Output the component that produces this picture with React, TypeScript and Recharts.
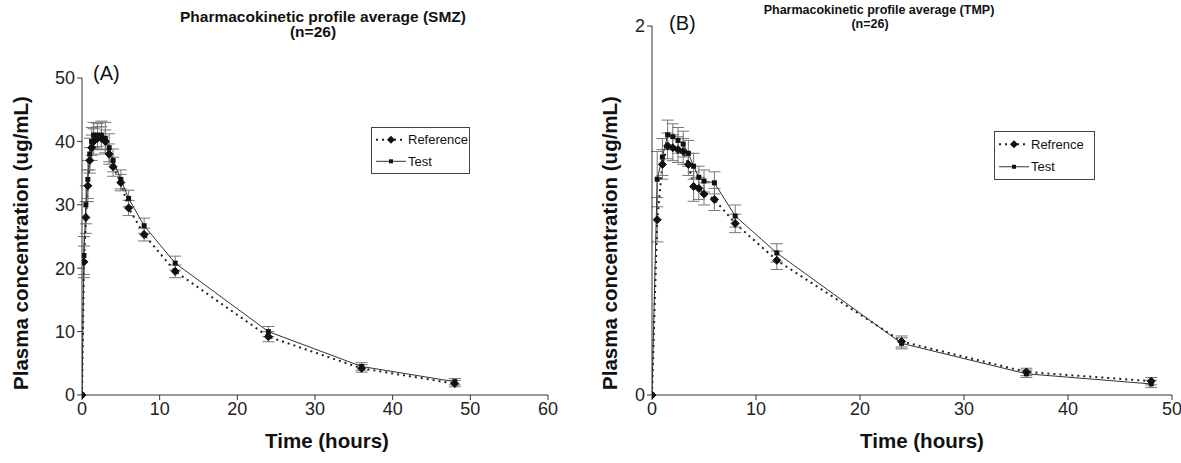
import React from 'react';
import { LineChart, Line, XAxis, YAxis, ErrorBar } from 'recharts';

// ---- SMZ (panel A) ----
const smzTimes = [0, 0.25, 0.5, 0.75, 1, 1.25, 1.5, 2, 2.5, 3, 3.5, 4, 5, 6, 8, 12, 24, 36, 48];
const smzRef = [0, 21, 28, 33, 37, 39, 40, 40.5, 40.5, 40, 38, 36, 33.5, 29.5, 25.3, 19.5, 9.2, 4.2, 1.8];
const smzRefSd = [0, 2.5, 2.5, 2.5, 2, 2, 2, 1.8, 1.8, 1.8, 1.6, 1.5, 1.3, 1.2, 1, 1, 0.8, 0.6, 0.5];
const smzTest = [0, 22, 30, 34, 38, 40, 41, 41, 41, 40.5, 39, 37, 34, 31, 26.7, 20.8, 10, 4.5, 2.1];
const smzTestSd = [0, 3, 3, 3, 2.5, 2.2, 2, 1.8, 2.2, 2.5, 2.2, 1.8, 1.5, 1.3, 1.2, 1.1, 0.8, 0.6, 0.5];

// ---- TMP (panel B) ----
const tmpTimes = [0, 0.5, 1, 1.5, 2, 2.5, 3, 3.5, 4, 4.5, 5, 6, 8, 12, 24, 36, 48];
const tmpRef = [0, 0.95, 1.25, 1.35, 1.34, 1.33, 1.32, 1.25, 1.13, 1.12, 1.09, 1.06, 0.93, 0.73, 0.29, 0.125, 0.075];
const tmpRefSd = [0, 0.12, 0.08, 0.07, 0.07, 0.07, 0.07, 0.06, 0.08, 0.06, 0.06, 0.06, 0.05, 0.05, 0.03, 0.02, 0.02];
const tmpTest = [0, 1.17, 1.29, 1.41, 1.4, 1.38, 1.36, 1.31, 1.24, 1.18, 1.16, 1.15, 0.97, 0.77, 0.28, 0.115, 0.06];
const tmpTestSd = [0, 0.15, 0.1, 0.08, 0.07, 0.07, 0.07, 0.07, 0.07, 0.06, 0.06, 0.06, 0.06, 0.05, 0.03, 0.02, 0.02];

const smzXTicks = [0, 10, 20, 30, 40, 50, 60];
const smzYTicks = [0, 10, 20, 30, 40, 50];
const tmpXTicks = [0, 10, 20, 30, 40, 50];
const tmpYTicks = [0, 2];

const build = (times: number[], vals: number[], sds: number[]) =>
  times.map((t, i) => ({ t, v: vals[i], e: sds[i] }));

const FONT = 'Liberation Sans, Arial, sans-serif';

const Diamond = (props: any) => {
  const { cx, cy, index } = props;
  if (cx == null || cy == null) return <g key={`d${index}`} />;
  const r = 4;
  return (
    <polygon
      key={`d${index}`}
      points={`${cx},${cy - r} ${cx + r},${cy} ${cx},${cy + r} ${cx - r},${cy}`}
      fill="#111"
      stroke="#111"
    />
  );
};

const Square = (props: any) => {
  const { cx, cy, index } = props;
  if (cx == null || cy == null) return <g key={`s${index}`} />;
  const r = 2.5;
  return <rect key={`s${index}`} x={cx - r} y={cy - r} width={2 * r} height={2 * r} fill="#111" />;
};

const tickStyle = { fontSize: 18, fill: '#222', fontFamily: FONT };

function Panel(props: {
  left: number;
  width: number;
  margin: { top: number; right: number; bottom: number; left: number };
  ref1: any[];
  test1: any[];
  xDomain: [number, number];
  yDomain: [number, number];
  xTicks: number[];
  yTicks: number[];
}) {
  const { left, width, margin, ref1, test1, xDomain, yDomain, xTicks, yTicks } = props;
  return (
    <div style={{ position: 'absolute', left, top: 0 }}>
      <LineChart width={width} height={463} margin={margin}>
        <XAxis
          type="number"
          dataKey="t"
          domain={xDomain}
          ticks={xTicks}
          allowDataOverflow
          height={30}
          tick={tickStyle}
          tickSize={5}
          stroke="#333"
          tickLine={{ stroke: '#333' }}
          interval={0}
        />
        <YAxis
          type="number"
          domain={yDomain}
          ticks={yTicks}
          width={60}
          tick={tickStyle}
          tickSize={5}
          stroke="#333"
          tickLine={{ stroke: '#333' }}
          interval={0}
        />
        <Line
          data={ref1}
          dataKey="v"
          stroke="#222"
          strokeWidth={2}
          strokeDasharray="2 4"
          dot={Diamond}
          activeDot={false}
          isAnimationActive={false}
        >
          <ErrorBar dataKey="e" width={6} stroke="#777" strokeWidth={1} direction="y" />
        </Line>
        <Line
          data={test1}
          dataKey="v"
          stroke="#333"
          strokeWidth={1}
          dot={Square}
          activeDot={false}
          isAnimationActive={false}
        >
          <ErrorBar dataKey="e" width={6} stroke="#777" strokeWidth={1} direction="y" />
        </Line>
      </LineChart>
    </div>
  );
}

function LegendBox(props: { left: number; top: number; w: number; h: number; refLabel: string }) {
  const { left, top, w, h, refLabel } = props;
  return (
    <div
      style={{
        position: 'absolute',
        left,
        top,
        width: w,
        height: h,
        border: '1px solid #444',
        boxSizing: 'border-box',
        background: '#fff',
      }}
    >
      <svg width={w} height={h} style={{ position: 'absolute', left: -1, top: -1 }}>
        <line x1={5} x2={35} y1={h * 0.27} y2={h * 0.27} stroke="#222" strokeWidth={2} strokeDasharray="2 4" />
        <polygon
          points={`20,${h * 0.27 - 4} 24,${h * 0.27} 20,${h * 0.27 + 4} 16,${h * 0.27}`}
          fill="#111"
        />
        <line x1={5} x2={35} y1={h * 0.73} y2={h * 0.73} stroke="#333" strokeWidth={1} />
        <rect x={18} y={h * 0.73 - 2} width={4} height={4} fill="#111" />
        <text x={37} y={h * 0.27 + 4.5} fontSize={13} fontFamily={FONT} fill="#111">
          {refLabel}
        </text>
        <text x={37} y={h * 0.73 + 4.5} fontSize={13} fontFamily={FONT} fill="#111">
          Test
        </text>
      </svg>
    </div>
  );
}

const textBase: React.CSSProperties = {
  position: 'absolute',
  fontFamily: FONT,
  color: '#111',
  whiteSpace: 'nowrap',
  lineHeight: 1,
};

const boldCenter = (left: number, top: number, size: number): React.CSSProperties => ({
  ...textBase,
  left,
  top,
  fontSize: size,
  fontWeight: 'bold',
  transform: 'translate(-50%, -50%)',
});

const yLabelStyle = (left: number, top: number): React.CSSProperties => ({
  ...textBase,
  left,
  top,
  fontSize: 20.5,
  fontWeight: 'bold',
  transform: 'translate(-50%, -50%) rotate(-90deg)',
});

export default function App() {
  const smzRefData = build(smzTimes, smzRef, smzRefSd);
  const smzTestData = build(smzTimes, smzTest, smzTestSd);
  const tmpRefData = build(tmpTimes, tmpRef, tmpRefSd);
  const tmpTestData = build(tmpTimes, tmpTest, tmpTestSd);

  return (
    <div style={{ position: 'absolute', left: 0, top: 0, width: 1181, height: 463, background: '#fff', overflow: 'hidden' }}>
      <Panel
        left={0}
        width={590}
        margin={{ top: 78, right: 42, bottom: 38, left: 22 }}
        ref1={smzRefData}
        test1={smzTestData}
        xDomain={[0, 60]}
        yDomain={[0, 50]}
        xTicks={smzXTicks}
        yTicks={smzYTicks}
      />
      <Panel
        left={590}
        width={591}
        margin={{ top: 26, right: 9, bottom: 38, left: 2 }}
        ref1={tmpRefData}
        test1={tmpTestData}
        xDomain={[0, 50]}
        yDomain={[0, 2]}
        xTicks={tmpXTicks}
        yTicks={tmpYTicks}
      />

      <div style={boldCenter(323, 17, 15.5)}>Pharmacokinetic profile average (SMZ)</div>
      <div style={boldCenter(313, 32, 15.5)}>(n=26)</div>
      <div style={boldCenter(879, 10, 12.5)}>Pharmacokinetic profile average (TMP)</div>
      <div style={boldCenter(870, 24, 12.5)}>(n=26)</div>

      <div style={{ ...textBase, left: 93, top: 63, fontSize: 20 }}>(A)</div>
      <div style={{ ...textBase, left: 669, top: 13, fontSize: 20 }}>(B)</div>

      <div style={yLabelStyle(21, 243)}>Plasma concentration (ug/mL)</div>
      <div style={yLabelStyle(610, 243)}>Plasma concentration (ug/mL)</div>

      <div style={boldCenter(327, 441, 20.5)}>Time (hours)</div>
      <div style={boldCenter(922, 441, 20.5)}>Time (hours)</div>

      <LegendBox left={371} top={127} w={99} h={47} refLabel="Reference" />
      <LegendBox left={994} top={131} w={101} h={49} refLabel="Refrence" />
    </div>
  );
}
